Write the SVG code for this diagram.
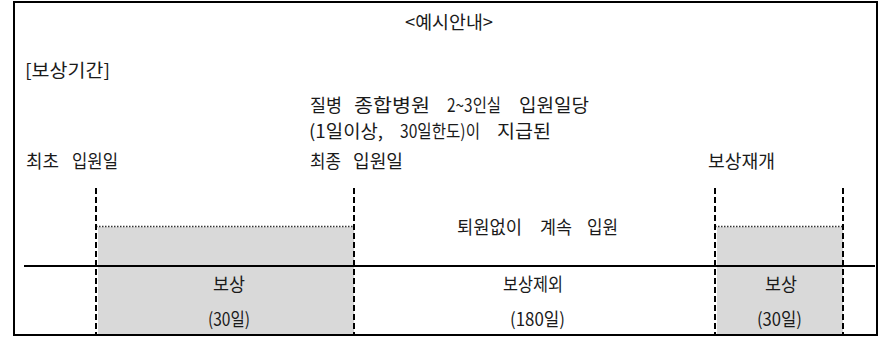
<svg xmlns="http://www.w3.org/2000/svg" width="887" height="338" viewBox="0 0 887 338">
<style>
text{font-family:"Noto Sans CJK KR","Noto Sans",sans-serif;font-size:18px;fill:#1a1a1a;}
.dash{stroke:#000;stroke-width:2;stroke-dasharray:6 3;fill:none;}
.dot{stroke:#333;stroke-width:1.5;stroke-dasharray:1.5 1.5;fill:none;}
.grey{fill:#d9d9d9;}
</style>
<rect x="0" y="0" width="887" height="338" fill="#fff"/>
<rect id="frame" x="14" y="2" width="863" height="333" fill="none" stroke="#000" stroke-width="2"/>
<g id="title"><text x="405" y="29" textLength="88" lengthAdjust="spacingAndGlyphs">&lt;예시안내&gt;</text></g>
<g id="heading"><text x="25" y="77" textLength="85" lengthAdjust="spacingAndGlyphs">[보상기간]</text></g>
<g id="period1">
<rect class="grey" x="98" y="227" width="256" height="107"/>
<line class="dot" x1="96" y1="226.5" x2="354" y2="226.5"/>
<text x="213" y="291" textLength="32" lengthAdjust="spacingAndGlyphs">보상</text>
<text x="208" y="326" textLength="42" lengthAdjust="spacingAndGlyphs">(30일)</text>
</g>
<g id="period2">
<text x="457" y="234" textLength="65" lengthAdjust="spacingAndGlyphs">퇴원없이</text><text x="540" y="234" textLength="32" lengthAdjust="spacingAndGlyphs">계속</text><text x="587" y="234" textLength="31" lengthAdjust="spacingAndGlyphs">입원</text>
<text x="503" y="291" textLength="60" lengthAdjust="spacingAndGlyphs">보상제외</text>
<text x="510" y="326" textLength="55" lengthAdjust="spacingAndGlyphs">(180일)</text>
</g>
<g id="period3">
<rect class="grey" x="717" y="227" width="126" height="107"/>
<line class="dot" x1="715" y1="226.5" x2="843" y2="226.5"/>
<text x="765" y="291" textLength="32" lengthAdjust="spacingAndGlyphs">보상</text>
<text x="757" y="326" textLength="45" lengthAdjust="spacingAndGlyphs">(30일)</text>
</g>
<g id="label-first"><text x="26" y="168" textLength="33" lengthAdjust="spacingAndGlyphs">최초</text><text x="72" y="168" textLength="46" lengthAdjust="spacingAndGlyphs">입원일</text></g>
<g id="label-last">
<text x="310" y="112" textLength="32" lengthAdjust="spacingAndGlyphs">질병</text><text x="354" y="112" textLength="76" lengthAdjust="spacingAndGlyphs">종합병원</text><text x="447" y="112" textLength="54" lengthAdjust="spacingAndGlyphs">2~3인실</text><text x="519" y="112" textLength="70" lengthAdjust="spacingAndGlyphs">입원일당</text>
<text x="309" y="138" textLength="74" lengthAdjust="spacingAndGlyphs">(1일이상,</text><text x="400" y="138" textLength="80" lengthAdjust="spacingAndGlyphs">30일한도)이</text><text x="497" y="138" textLength="54" lengthAdjust="spacingAndGlyphs">지급된</text>
<text x="310" y="168" textLength="31" lengthAdjust="spacingAndGlyphs">최종</text><text x="353" y="168" textLength="50" lengthAdjust="spacingAndGlyphs">입원일</text>
</g>
<g id="label-resume"><text x="708" y="168" textLength="67" lengthAdjust="spacingAndGlyphs">보상재개</text></g>
<g id="connectors">
<line x1="24" y1="266" x2="875" y2="266" stroke="#000" stroke-width="2"/>
<line class="dash" x1="96" y1="188" x2="96" y2="335"/>
<line class="dash" x1="354" y1="188" x2="354" y2="335"/>
<line class="dash" x1="715" y1="188" x2="715" y2="335"/>
<line class="dash" x1="843" y1="188" x2="843" y2="335"/>
</g>
</svg>
